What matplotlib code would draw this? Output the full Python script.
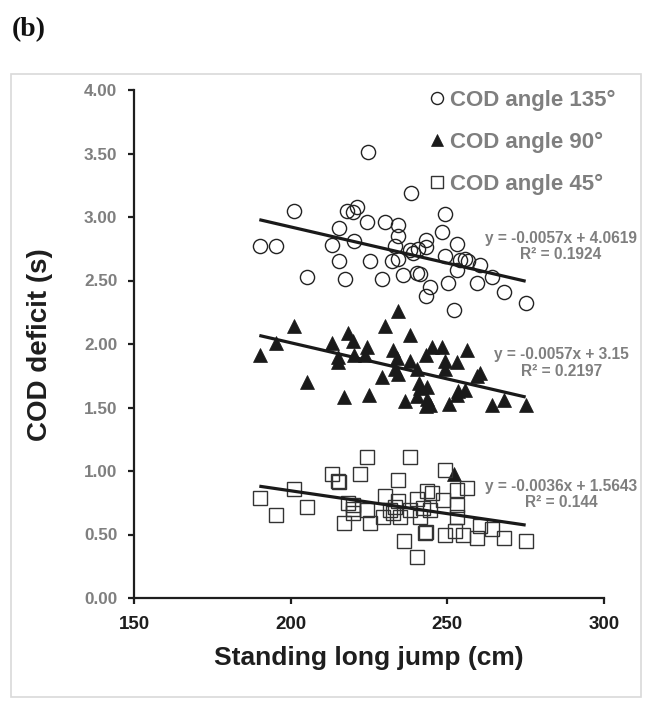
import matplotlib
matplotlib.use("Agg")
import matplotlib.pyplot as plt
from matplotlib.patches import Rectangle
import numpy as np

# ---------------- data ----------------
x135 = [190.2, 195.2, 201.2, 205.1, 213.2, 215.3, 215.3, 217.2, 218.0, 219.9, 221.2, 220.1,
        224.6, 224.3, 225.3, 229.1, 230.1, 232.3, 233.3, 234.4, 234.4, 234.4, 236.0, 238.1,
        238.4, 239.0, 240.2, 241.3, 240.5, 243.2, 243.2, 243.2, 244.5, 248.2, 249.3, 249.3,
        250.3, 252.2, 253.0, 253.0, 254.0, 255.6, 256.7, 259.4, 260.4, 264.1, 268.2, 275.1]
y135 = [2.77, 2.77, 3.05, 2.53, 2.78, 2.91, 2.65, 2.51, 3.05, 3.04, 3.08, 2.81,
        3.51, 2.96, 2.65, 2.51, 2.96, 2.65, 2.77, 2.94, 2.85, 2.67, 2.54, 2.74,
        3.19, 2.72, 2.56, 2.55, 2.75, 2.82, 2.76, 2.38, 2.45, 2.88, 3.02, 2.69,
        2.48, 2.27, 2.79, 2.58, 2.66, 2.67, 2.65, 2.48, 2.62, 2.53, 2.41, 2.32]

x90 = [190.2, 195.2, 201.2, 205.1, 213.1, 215.2, 215.2, 217.1, 218.2, 220.0, 220.2, 224.3,
       223.7, 225.1, 229.1, 230.1, 232.8, 233.8, 233.3, 234.4, 234.4, 236.5, 238.1, 238.1,
       240.2, 240.8, 241.3, 240.2, 243.4, 243.4, 243.2, 244.5, 243.2, 245.0, 248.2, 249.3,
       249.3, 250.4, 252.2, 253.0, 253.0, 253.5, 255.6, 256.2, 259.4, 260.4, 264.1, 268.2, 275.1]
y90 = [1.91, 2.01, 2.14, 1.70, 2.01, 1.90, 1.86, 1.58, 2.09, 2.02, 1.91, 1.98,
       1.91, 1.60, 1.74, 2.14, 1.95, 1.89, 1.80, 1.76, 2.26, 1.55, 2.07, 1.87,
       1.80, 1.69, 1.65, 1.59, 1.66, 1.57, 1.91, 1.52, 1.51, 1.98, 1.98, 1.87,
       1.80, 1.53, 0.98, 1.86, 1.60, 1.63, 1.64, 1.95, 1.75, 1.77, 1.52, 1.56, 1.52]

x45 = [190.2, 195.2, 201.2, 205.1, 213.1, 215.2, 215.5, 217.1, 218.2, 220.0, 220.0, 220.0,
       222.1, 224.3, 224.3, 225.3, 229.6, 230.1, 231.7, 232.8, 233.3, 234.4, 234.4, 234.9,
       236.3, 238.1, 238.1, 240.2, 240.2, 241.3, 242.3, 242.9, 243.2, 243.4, 244.5, 245.0,
       248.7, 249.3, 249.3, 252.5, 253.0, 253.0, 253.0, 255.1, 256.2, 259.4, 260.4, 264.1,
       268.2, 275.1]
y45 = [0.79, 0.65, 0.86, 0.72, 0.98, 0.92, 0.91, 0.59, 0.75, 0.70, 0.73, 0.67,
       0.98, 1.11, 0.69, 0.59, 0.64, 0.80, 0.69, 0.67, 0.72, 0.93, 0.76, 0.64,
       0.45, 1.11, 0.69, 0.78, 0.32, 0.64, 0.71, 0.51, 0.52, 0.84, 0.69, 0.83,
       0.77, 1.01, 0.50, 0.53, 0.85, 0.73, 0.64, 0.50, 0.87, 0.47, 0.57, 0.54,
       0.47, 0.45]

# trendline coefficients (slope, intercept) and R2 as printed
slopes = [-0.0057, -0.0057, -0.0036]
intercepts = [4.0619, 3.15, 1.5643]
r2_labels = ["0.1924", "0.2197", "0.144"]
eq_labels = ["y = -0.0057x + 4.0619", "y = -0.0057x + 3.15", "y = -0.0036x + 1.5643"]
trend_range = [190, 275]
labels = ["COD angle 135°", "COD angle 90°", "COD angle 45°"]

xticks = [150, 200, 250, 300]
yticks = [0.0, 0.5, 1.0, 1.5, 2.0, 2.5, 3.0, 3.5, 4.0]

# ---------------- style ----------------
W, H = 652, 701
plt.rcParams['font.family'] = ['Liberation Sans', 'DejaVu Sans']
plt.rcParams['font.weight'] = 'bold'
fig = plt.figure(figsize=(W / 100, H / 100), dpi=100)
ax = fig.add_axes([134 / W, 1 - 598 / H, (604 - 134) / W, (598 - 90) / H])

dark = '#1e1e1e'
gray = '#7f7f7f'

ax.plot(x135, y135, linestyle='none', marker='o', markersize=10.2, markerfacecolor='none',
        markeredgecolor='#222222', markeredgewidth=1.0, label=labels[0])
ax.plot(x90, y90, linestyle='none', marker='^', markersize=10.5, markerfacecolor='#1a1a1a',
        markeredgecolor='#1a1a1a', markeredgewidth=0.5, label=labels[1])
ax.plot(x45, y45, linestyle='none', marker='s', markersize=9.6, markerfacecolor='none',
        markeredgecolor='#333333', markeredgewidth=1.0, label=labels[2])

xt = np.array(trend_range, dtype=float)
for m, b in zip(slopes, intercepts):
    ax.plot(xt, m * xt + b, color='#1a1a1a', linewidth=2.3, solid_capstyle='butt')

# equation labels
label_pos_y = [2.765, 1.85, 0.818]
for eq, r2, yy in zip(eq_labels, r2_labels, label_pos_y):
    ax.text(286.3, yy, eq + "\nR² = " + r2, ha='center', va='center', fontsize=11.2,
            color=gray, fontweight='bold', linespacing=1.1)

ax.set_xlim(150, 300)
ax.set_ylim(0, 4)
ax.set_xticks(xticks)
ax.set_yticks(yticks)
ax.set_yticklabels([f"{v:.2f}" for v in yticks])
for s in ['top', 'right']:
    ax.spines[s].set_visible(False)
for s in ['left', 'bottom']:
    ax.spines[s].set_linewidth(1.6)
    ax.spines[s].set_color(dark)
ax.tick_params(axis='y', direction='out', length=4, width=1.6, color=dark,
               labelsize=12.3, labelcolor=gray, pad=8)
ax.tick_params(axis='x', direction='out', length=4, width=1.6, color=dark,
               labelsize=13.5, labelcolor=dark, pad=9)
for t in ax.get_xticklabels() + ax.get_yticklabels():
    t.set_fontweight('bold')

fig.text(369 / W, 1 - 658 / H, "Standing long jump (cm)", ha='center', va='center',
         fontsize=19, fontweight='bold', color=dark)
fig.text(40 / W, 1 - 345 / H, "COD deficit (s)", ha='center', va='center', rotation=90,
         fontsize=20, fontweight='bold', color=dark)

leg = ax.legend(loc='upper left', bbox_to_anchor=(418 / W, 1 - 79 / H),
                bbox_transform=fig.transFigure, frameon=False,
                handlelength=0.7, handletextpad=0.23, labelspacing=0.94, borderpad=0,
                markerscale=0.85, labelcolor=gray, prop={'weight': 'bold', 'size': 16})

# frame and panel label
fig.patches.append(Rectangle((11 / W, 1 - 697 / H), (641 - 11) / W, (697 - 74) / H,
                             transform=fig.transFigure, fill=False, edgecolor='#d9d9d9',
                             linewidth=1.2))
fig.text(12 / W, 1 - 30 / H, "(b)", ha='left', va='center', fontsize=20,
         fontweight='bold', family=['Liberation Serif', 'DejaVu Serif'], color='#111111')

fig.savefig("out.png", dpi=100)
